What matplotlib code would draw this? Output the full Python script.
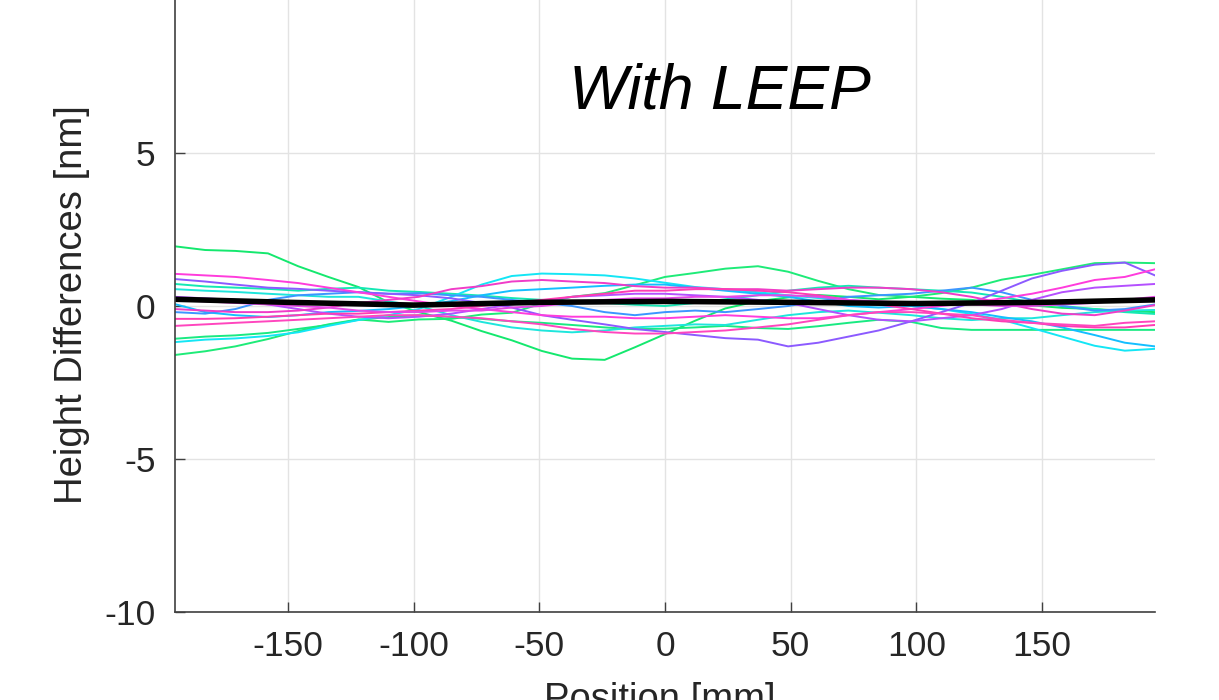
import matplotlib.pyplot as plt

plt.rcParams['font.family'] = ['Liberation Sans', 'DejaVu Sans']
plt.rcParams['axes.unicode_minus'] = False

# position grid shared by all profiles [mm]
pos = [-195, -183, -171, -158, -146, -134, -122, -110, -98, -85, -73, -61, -49, -37, -24, -12, 0,
       12, 24, 37, 49, 61, 73, 85, 98, 110, 122, 134, 146, 158, 171, 183, 195]

# height difference profiles [nm]
prof_green_dip = [1.95, 1.83, 1.8, 1.72, 1.3, 0.95, 0.62, 0.12, -0.2, -0.48, -0.82, -1.12, -1.47, -1.72,
                  -1.76, -1.35, -0.92, -0.48, -0.08, 0.16, 0.28, 0.36, 0.3, 0.22, 0.3, 0.24, 0.2, 0.1,
                  0.02, -0.06, -0.1, -0.16, -0.2]
prof_green_hump = [-1.6, -1.48, -1.32, -1.08, -0.82, -0.6, -0.44, -0.52, -0.44, -0.42, -0.28, -0.22, 0.08,
                   0.3, 0.42, 0.68, 0.95, 1.08, 1.22, 1.3, 1.12, 0.82, 0.55, 0.36, 0.3, 0.42, 0.6, 0.86,
                   1.02, 1.2, 1.4, 1.42, 1.4]
prof_green_flat = [-1.07, -1.0, -0.96, -0.88, -0.75, -0.62, -0.45, -0.36, -0.3, -0.36, -0.42, -0.5, -0.55,
                   -0.62, -0.7, -0.76, -0.74, -0.7, -0.65, -0.72, -0.75, -0.66, -0.55, -0.45, -0.52, -0.72,
                   -0.78, -0.78, -0.78, -0.78, -0.78, -0.78, -0.78]
prof_teal = [0.72, 0.64, 0.6, 0.56, 0.5, 0.56, 0.6, 0.5, 0.46, 0.4, 0.34, 0.26, 0.2, 0.14, 0.1, 0.04, 0.0,
             0.1, 0.22, 0.35, 0.5, 0.6, 0.66, 0.6, 0.55, 0.5, 0.44, 0.3, 0.12, 0.0, -0.1, -0.2, -0.26]
prof_cyan = [-1.18, -1.1, -1.06, -0.98, -0.86, -0.65, -0.46, -0.3, -0.1, 0.3, 0.7, 0.98, 1.06, 1.04,
             1.0, 0.9, 0.76, 0.62, 0.55, 0.45, 0.35, 0.26, 0.2, 0.1, 0.0, -0.1, -0.26, -0.45, -0.72,
             -1.0, -1.3, -1.46, -1.4]
prof_cyan2 = [0.55, 0.5, 0.46, 0.4, 0.35, 0.3, 0.3, 0.15, 0.0, -0.3, -0.52, -0.7, -0.8, -0.86, -0.8,
              -0.7, -0.65, -0.6, -0.62, -0.45, -0.3, -0.2, -0.15, -0.22, -0.3, -0.4, -0.46, -0.4, -0.4,
              -0.3, -0.2, -0.15, -0.13]
prof_lblue = [0.06, -0.2, -0.3, -0.36, -0.3, -0.2, -0.16, -0.1, 0.0, 0.16, 0.35, 0.5, 0.55, 0.6, 0.66,
              0.7, 0.7, 0.6, 0.5, 0.4, 0.3, 0.15, 0.0, -0.05, 0.0, -0.1, -0.2, -0.36, -0.5, -0.7, -0.95,
              -1.2, -1.32]
prof_blue = [-0.2, -0.25, -0.1, 0.2, 0.35, 0.4, 0.45, 0.4, 0.42, 0.35, 0.3, 0.2, 0.1, 0.0, -0.2, -0.3,
             -0.2, -0.15, -0.2, -0.1, 0.0, 0.15, 0.3, 0.35, 0.4, 0.5, 0.6, 0.45, 0.2, 0.0, -0.15, -0.1,
             0.05]
prof_purple = [0.88, 0.8, 0.7, 0.6, 0.56, 0.5, 0.45, 0.4, 0.35, 0.25, 0.1, -0.05, -0.3, -0.45, -0.6,
               -0.75, -0.85, -0.95, -1.05, -1.1, -1.32, -1.2, -1.0, -0.8, -0.5, -0.2, 0.1, 0.5, 0.9,
               1.15, 1.35, 1.42, 1.0]
prof_violet = [0.3, 0.25, 0.2, 0.05, -0.1, -0.25, -0.35, -0.4, -0.35, -0.25, -0.1, 0.05, 0.15, 0.3,
               0.35, 0.4, 0.4, 0.35, 0.3, 0.2, 0.1, -0.1, -0.3, -0.45, -0.5, -0.4, -0.3, -0.1, 0.2,
               0.45, 0.6, 0.66, 0.72]
prof_magenta = [1.05, 1.0, 0.95, 0.85, 0.75, 0.6, 0.45, 0.3, 0.15, 0.0, -0.1, -0.2, -0.3, -0.35, -0.35,
                -0.4, -0.4, -0.35, -0.3, -0.35, -0.4, -0.4, -0.3, -0.2, -0.1, 0.0, 0.1, 0.25, 0.4,
                0.6, 0.85, 0.95, 1.2]
prof_magenta2 = [-0.1, -0.15, -0.2, -0.2, -0.15, -0.05, 0.1, 0.2, 0.3, 0.55, 0.65, 0.8, 0.85, 0.8,
                 0.75, 0.65, 0.6, 0.6, 0.55, 0.55, 0.5, 0.55, 0.6, 0.6, 0.55, 0.45, 0.3, 0.1, -0.1,
                 -0.25, -0.3, -0.15, 0.03]
prof_pink = [-0.42, -0.42, -0.4, -0.35, -0.3, -0.25, -0.25, -0.2, -0.15, -0.1, 0.0, 0.1, 0.2, 0.3, 0.4,
             0.5, 0.5, 0.55, 0.55, 0.5, 0.45, 0.35, 0.2, 0.05, -0.1, -0.25, -0.4, -0.5, -0.55, -0.65,
             -0.7, -0.7, -0.62]
prof_pink2 = [-0.65, -0.6, -0.55, -0.5, -0.45, -0.4, -0.35, -0.3, -0.3, -0.35, -0.4, -0.5, -0.6, -0.75,
              -0.85, -0.9, -0.9, -0.85, -0.8, -0.7, -0.6, -0.45, -0.3, -0.2, -0.2, -0.25, -0.3, -0.45,
              -0.55, -0.6, -0.65, -0.55, -0.5]
prof_rose = [0.2, 0.15, 0.1, 0.05, 0.0, -0.05, -0.15, -0.2, -0.2, -0.15, -0.15, -0.05, 0.0, 0.1, 0.2,
             0.25, 0.25, 0.3, 0.3, 0.35, 0.35, 0.3, 0.2, 0.15, 0.1, 0.05, 0.05, 0.0, 0.0, 0.05, 0.1,
             0.2, 0.3]

profiles = [prof_green_dip, prof_green_hump, prof_green_flat, prof_teal, prof_cyan, prof_cyan2,
            prof_lblue, prof_blue, prof_purple, prof_violet, prof_magenta, prof_magenta2,
            prof_pink, prof_pink2, prof_rose]
colors = ['#14E86E', '#1EEB78', '#19EA82', '#14E8B4', '#14E6F5', '#1EE6DC',
          '#14BEFF', '#3C96FF', '#8C5AFF', '#B450FF', '#FF3CDC', '#F03CC8',
          '#FF3CB4', '#FF46BE', '#E646E6']

# mean profile [nm]
mean_pos = [-195, -150, -100, -50, 0, 50, 100, 150, 195]
mean_val = [0.22, 0.12, 0.03, 0.12, 0.15, 0.12, 0.08, 0.12, 0.2]

fig = plt.figure(figsize=(12.19, 7.0), dpi=100)
ax = fig.add_axes([175 / 1219, 88 / 700, 980 / 1219, 612 / 700])

for p, c in zip(profiles, colors):
    ax.plot(pos, p, color=c, lw=1.4)
ax.plot(mean_pos, mean_val, color='black', lw=4.0)

ax.set_xlim(-195, 195)
ax.set_ylim(-10, 10)
ax.set_xticks([-150, -100, -50, 0, 50, 100, 150])
ax.set_yticks([-10, -5, 0, 5])
ax.grid(True, color='#E3E3E3', lw=1.0)
ax.set_axisbelow(True)

for s in ['top', 'right']:
    ax.spines[s].set_visible(False)
for s in ['left', 'bottom']:
    ax.spines[s].set_color('#404040')
    ax.spines[s].set_linewidth(1.2)

ax.tick_params(direction='in', length=7, width=1.0, color='#404040',
               labelsize=25.5, labelcolor='#262626')
ax.tick_params(axis='x', pad=13)
ax.tick_params(axis='y', pad=14)

ax.text(22, 6.45, 'With LEEP', fontsize=45, style='italic', ha='center', va='baseline')

fig.text(72 / 1219, 1 - 305 / 700, 'Height Differences [nm]', rotation=90,
         fontsize=27.5, color='#262626', ha='center', va='center')
fig.text(660 / 1219, -0.014, 'Position [mm]', fontsize=27.5, color='#262626',
         ha='center', va='baseline')

fig.savefig('out.png', dpi=100)
